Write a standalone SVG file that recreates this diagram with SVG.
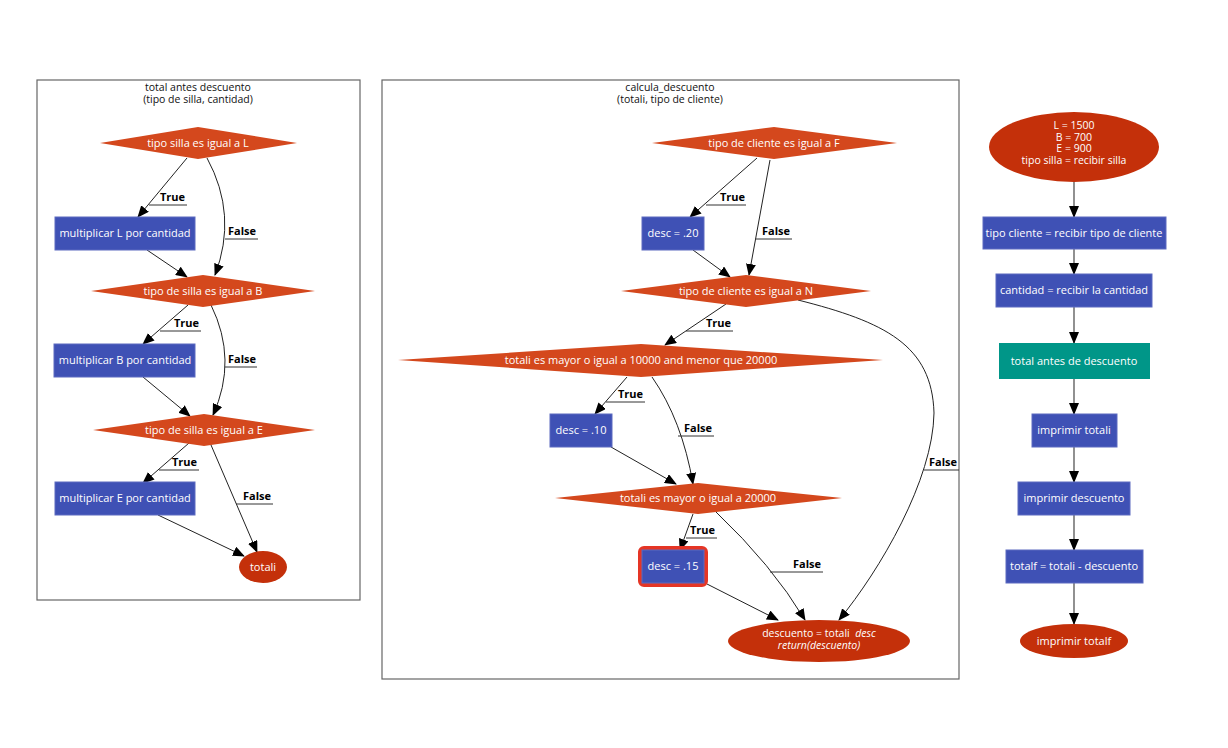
<svg xmlns="http://www.w3.org/2000/svg" width="1228" height="748" viewBox="0 0 1228 748">
<style>
text{font-family:"Open Sans","Liberation Sans",sans-serif;font-size:11px}
.t{fill:#fff;text-anchor:middle}
.t2{fill:#fff;text-anchor:middle;font-size:10.5px}
.ti{fill:#111;text-anchor:middle;font-size:10.5px}
.lb{fill:#000;font-weight:bold;text-anchor:end}
.dia{fill:#d4481d}
.box{fill:#3f51b5;stroke:#5c6bc0;stroke-width:1}
.ell{fill:#c4300a}
.teal{fill:#009688}
.cl{fill:none;stroke:#666;stroke-width:1.2}
.e{fill:none;stroke:#222;stroke-width:1;marker-end:url(#ah)}
.er{fill:none;stroke:#555;stroke-width:1.3;marker-end:url(#ah)}
.ul{stroke:#333;stroke-width:1}
</style>
<defs>
<marker id="ah" markerUnits="userSpaceOnUse" markerWidth="12" markerHeight="10" viewBox="0 0 12 10" refX="11" refY="5" orient="auto">
<path d="M0,0 L12,5 L0,10 z" fill="#000"/>
</marker>
</defs>
<rect width="1228" height="748" fill="#fff"/>

<g id="cluster-total">
<rect class="cl" x="37" y="80" width="323" height="520"/>
<text class="ti" x="198" y="91">total antes descuento</text>
<text class="ti" x="198" y="103">(tipo de silla, cantidad)</text>
</g>
<g id="cluster-calcula">
<rect class="cl" x="382" y="80" width="577" height="599"/>
<text class="ti" x="670" y="91">calcula_descuento</text>
<text class="ti" x="670" y="103">(totali, tipo de cliente)</text>
</g>

<g id="connectors">
<path class="e" d="M187,158 L138,217"/>
<path class="e" d="M207,158 Q238,215 215,275"/>
<path class="e" d="M147,250 L187,277"/>
<path class="e" d="M188,305 L143,344"/>
<path class="e" d="M211,305 Q238,360 213,415"/>
<path class="e" d="M143,377 L190,416"/>
<path class="e" d="M189,443 L143,483"/>
<path class="e" d="M211,445 L257,552"/>
<path class="e" d="M158,515 L244,556"/>

<path class="e" d="M757,158 L690,217"/>
<path class="e" d="M770,160 L749,275"/>
<path class="e" d="M693,250 L730,277"/>
<path class="e" d="M726,304 L665,345"/>
<path class="e" d="M798,300 C885,322 932,345 934,413 C933,480 880,570 839,620"/>
<path class="e" d="M627,377 L595,414"/>
<path class="e" d="M652,377 Q682,420 693,484"/>
<path class="e" d="M611,447 L676,484"/>
<path class="e" d="M693,514 L680,550"/>
<path class="e" d="M716,512 Q772,565 805,620"/>
<path class="e" d="M707,584 L778,620"/>

<path class="er" d="M1074,182 L1074,217"/>
<path class="er" d="M1074,249 L1074,274"/>
<path class="er" d="M1074,307 L1074,343"/>
<path class="er" d="M1074,379 L1074,414"/>
<path class="er" d="M1074,447 L1074,482"/>
<path class="er" d="M1074,515 L1074,550"/>
<path class="er" d="M1074,583 L1074,624"/>

<line class="ul" x1="149" y1="205" x2="187" y2="205"/><text class="lb" x="185" y="201">True</text>
<line class="ul" x1="225" y1="239" x2="258" y2="239"/><text class="lb" x="256" y="235">False</text>
<line class="ul" x1="160" y1="331" x2="201" y2="331"/><text class="lb" x="199" y="327">True</text>
<line class="ul" x1="225" y1="367" x2="257" y2="367"/><text class="lb" x="256" y="363">False</text>
<line class="ul" x1="159" y1="470" x2="199" y2="470"/><text class="lb" x="197" y="466">True</text>
<line class="ul" x1="236" y1="504" x2="273" y2="504"/><text class="lb" x="271" y="500">False</text>

<line class="ul" x1="706" y1="205" x2="746" y2="205"/><text class="lb" x="745" y="201">True</text>
<line class="ul" x1="755" y1="239" x2="792" y2="239"/><text class="lb" x="790" y="235">False</text>
<line class="ul" x1="686" y1="331" x2="733" y2="331"/><text class="lb" x="731" y="327">True</text>
<line class="ul" x1="924" y1="470" x2="959" y2="470"/><text class="lb" x="957" y="466">False</text>
<line class="ul" x1="606" y1="402" x2="645" y2="402"/><text class="lb" x="643" y="398">True</text>
<line class="ul" x1="678" y1="436" x2="714" y2="436"/><text class="lb" x="712" y="432">False</text>
<line class="ul" x1="686" y1="538" x2="717" y2="538"/><text class="lb" x="715" y="534">True</text>
<line class="ul" x1="770" y1="572" x2="823" y2="572"/><text class="lb" x="821" y="568">False</text>
</g>

<g id="n-silla-L"><polygon class="dia" points="100,143 198,127 297,143 198,159"/><text class="t" x="198" y="147">tipo silla es igual a L</text></g>
<g id="n-mult-L"><rect class="box" x="55" y="217" width="140" height="33"/><text class="t" x="125" y="237">multiplicar L por cantidad</text></g>
<g id="n-silla-B"><polygon class="dia" points="91,291 203,275 315,291 203,307"/><text class="t" x="203" y="295">tipo de silla es igual a B</text></g>
<g id="n-mult-B"><rect class="box" x="54" y="344" width="141" height="33"/><text class="t" x="125" y="364">multiplicar B por cantidad</text></g>
<g id="n-silla-E"><polygon class="dia" points="93,430 204,414 315,430 204,446"/><text class="t" x="204" y="434">tipo de silla es igual a E</text></g>
<g id="n-mult-E"><rect class="box" x="55" y="482" width="140" height="33"/><text class="t" x="125" y="502">multiplicar E por cantidad</text></g>
<g id="n-totali"><ellipse class="ell" cx="263" cy="567" rx="24" ry="16"/><text class="t" x="263" y="571">totali</text></g>

<g id="n-cliente-F"><polygon class="dia" points="652,143 774,127 897,143 774,159"/><text class="t" x="774" y="147">tipo de cliente es igual a F</text></g>
<g id="n-desc20"><rect class="box" x="642" y="217" width="62" height="33"/><text class="t" x="673" y="237">desc = .20</text></g>
<g id="n-cliente-N"><polygon class="dia" points="621,291 746,275 871,291 746,307"/><text class="t" x="746" y="295">tipo de cliente es igual a N</text></g>
<g id="n-mayor10000"><polygon class="dia" points="398,360 641,344 883,360 641,377"/><text class="t" x="641" y="364">totali es mayor o igual a 10000 and menor que 20000</text></g>
<g id="n-desc10"><rect class="box" x="550" y="414" width="62" height="33"/><text class="t" x="581" y="434">desc = .10</text></g>
<g id="n-mayor20000"><polygon class="dia" points="555,498 698,483 842,498 698,514"/><text class="t" x="698" y="502">totali es mayor o igual a 20000</text></g>
<g id="n-desc15"><rect x="640" y="548" width="66" height="37" rx="4" fill="none" stroke="#e53525" stroke-width="4"/><rect class="box" x="642" y="550" width="62" height="33"/><text class="t" x="673" y="570">desc = .15</text></g>
<g id="n-descuento"><ellipse class="ell" cx="819" cy="641" rx="91" ry="21"/><text class="t2" x="819" y="637">descuento = totali &#160;<tspan font-style="italic">desc</tspan></text><text class="t2" x="819" y="649" font-style="italic">return(descuento)</text></g>

<g id="n-init"><ellipse class="ell" cx="1074" cy="147" rx="85" ry="35"/><text class="t2" x="1074" y="129">L = 1500</text><text class="t2" x="1074" y="140.5">B = 700</text><text class="t2" x="1074" y="152">E = 900</text><text class="t2" x="1074" y="163.5">tipo silla = recibir silla</text></g>
<g id="n-tipo-cliente"><rect class="box" x="983" y="217" width="183" height="32"/><text class="t" x="1074" y="237">tipo cliente = recibir tipo de cliente</text></g>
<g id="n-cantidad"><rect class="box" x="996" y="274" width="156" height="33"/><text class="t" x="1074" y="294">cantidad = recibir la cantidad</text></g>
<g id="n-total-antes"><rect class="teal" x="999" y="343" width="151" height="36"/><text class="t" x="1074" y="365">total antes de descuento</text></g>
<g id="n-imp-totali"><rect class="box" x="1032" y="414" width="85" height="33"/><text class="t" x="1074" y="434">imprimir totali</text></g>
<g id="n-imp-descuento"><rect class="box" x="1018" y="482" width="112" height="33"/><text class="t" x="1074" y="502">imprimir descuento</text></g>
<g id="n-totalf"><rect class="box" x="1006" y="550" width="137" height="33"/><text class="t" x="1074" y="570">totalf = totali - descuento</text></g>
<g id="n-imp-totalf"><ellipse class="ell" cx="1074" cy="641" rx="54" ry="17"/><text class="t" x="1074" y="645">imprimir totalf</text></g>
</svg>
